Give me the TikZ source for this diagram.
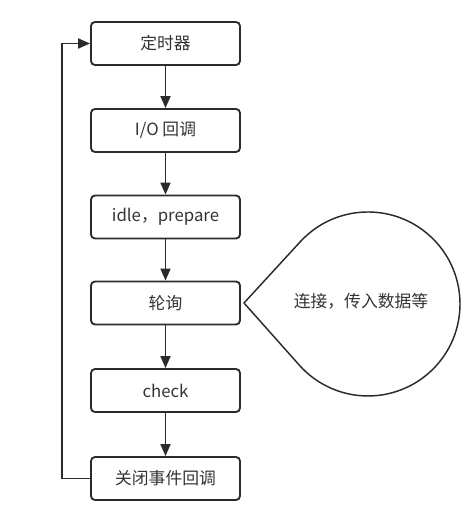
\documentclass[tikz,border=0pt]{standalone}
\usepackage{fontspec}
\setmainfont{Noto Sans CJK SC}
\usetikzlibrary{arrows.meta}
\definecolor{ink}{HTML}{2B2B2B}
\definecolor{txt}{HTML}{333333}
\begin{document}
\begin{tikzpicture}[x=0.75pt,y=-0.75pt,
  stage/.style={draw=ink,line width=1.4pt,rounded corners=3pt,minimum width=149\pgflinewidth,
    minimum width=111.75pt,minimum height=32.25pt,inner sep=0pt,
    font=\fontsize{12.6pt}{15pt}\selectfont,text=txt},
  flow/.style={draw=ink,line width=1.4pt,-{Triangle[length=9pt,width=7.5pt]}}]
\useasboundingbox (0,0) rectangle (470,519);
% the six phases of the loop
\node[stage] (timers)  at (165.5,43.5)  {定时器};
\node[stage] (io)      at (165.5,130.5) {I/O 回调};
\node[stage] (idle)    at (165.5,217)   {idle，prepare};
\node[stage] (poll)    at (165.5,303)   {轮询};
\node[stage] (check)   at (165.5,390.5) {check};
\node[stage] (close)   at (165.5,478.5) {关闭事件回调};
\draw[flow] (timers) -- (io);
\draw[flow] (io) -- (idle);
\draw[flow] (idle) -- (poll);
\draw[flow] (poll) -- (check);
\draw[flow] (check) -- (close);
% loop back from the last phase to the first
\coordinate (back) at (62,0);
\draw[flow] (close.west) -- (back |- close.west) -- (back |- timers.west) -- (timers.west);
% callout attached to the poll phase
\coordinate (tip) at (244,303);
\draw[ink,line width=1.1pt,line join=round] (tip) -- (300.3,241.7)
  arc[start angle=222.6,end angle=497.4,radius=92] -- cycle;
\node[text=txt,font=\fontsize{12.6pt}{15pt}\selectfont] (note) at (361,301) {连接，传入数据等};
\end{tikzpicture}
\end{document}
